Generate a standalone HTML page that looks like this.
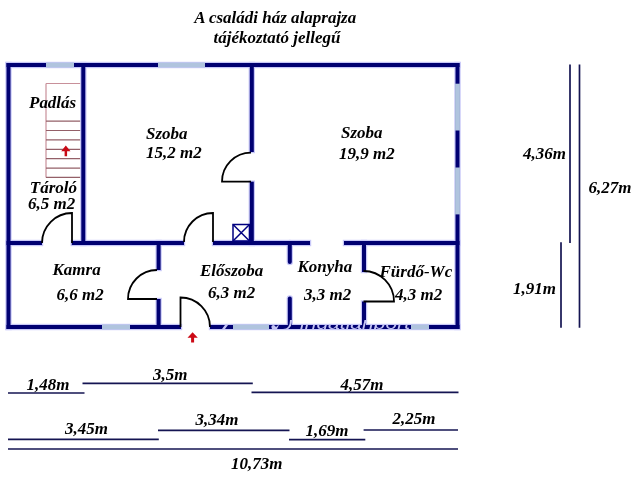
<!DOCTYPE html>
<html><head><meta charset="utf-8"><style>
html,body{margin:0;padding:0;background:#fff;width:640px;height:480px;overflow:hidden}
svg{position:absolute;left:0;top:0;display:block}
text{font-family:"Liberation Serif",serif;font-weight:bold;font-style:italic;font-size:17px;fill:#000}
svg{will-change:transform}
</style></head><body>
<svg width="640" height="480" viewBox="0 0 640 480">
<!-- title -->
<text transform="translate(194.3 22.6) scale(1 .93)">A családi ház alaprajza</text>
<text transform="translate(213.5 43.3) scale(1 .93)">tájékoztató jellegű</text>

<!-- stairs -->
<g stroke="#946068" stroke-width="1.2" fill="none">
<path d="M46 83.5H81.3M46 83.5V177.5" stroke="#c8909a"/>
<path d="M46 121.1H81.3M46 130.5H81.3M46 139.9H81.3M46 149.3H81.3M46 158.7H81.3M46 168.1H81.3M46 177.4H81.3"/>
</g>
<!-- stair arrow -->
<path d="M65.8 145.5L70.5 151.3H67.1V156.3H64.6V151.3H61.2Z" fill="#c80a16"/>
<!-- entrance arrow -->
<path d="M192.6 332.2L197.8 337.8H194.1V342.5H191.1V337.8H187.5Z" fill="#cc0a16"/>

<!-- walls -->
<defs><g id="ws">
<rect x="6.5" y="63" width="453" height="4"/>
<rect x="6.5" y="63" width="4" height="266"/>
<rect x="455.5" y="63" width="4" height="266"/>
<rect x="6.5" y="325" width="174.5" height="4"/>
<rect x="210" y="325" width="249.5" height="4"/>
<rect x="81.3" y="63" width="4" height="182"/>
<rect x="249.8" y="63" width="4" height="89"/>
<rect x="249.8" y="181.7" width="4" height="63.3"/>
<rect x="6.5" y="241" width="35.5" height="4"/>
<rect x="71.8" y="241" width="112.2" height="4"/>
<rect x="213" y="241" width="97" height="4"/>
<rect x="344" y="241" width="115.5" height="4"/>
<rect x="156.6" y="241" width="4" height="29"/>
<rect x="156.6" y="299" width="4" height="29"/>
<rect x="362" y="241" width="4" height="31"/>
<rect x="362" y="301.5" width="4" height="26"/>
<rect x="287.8" y="241" width="4" height="23" rx="2"/>
<rect x="287.8" y="296.5" width="4" height="32" rx="2"/>
</g></defs>
<use href="#ws" fill="none" stroke="#c8c8f8" stroke-width="2.4"/>
<use href="#ws" fill="#000072"/>
<!-- windows -->
<g fill="#b0c4de">
<rect x="46" y="62.6" width="28" height="4.8"/>
<rect x="158" y="62.6" width="47" height="4.8"/>
<rect x="455.1" y="83.7" width="4.8" height="46.8"/>
<rect x="455.1" y="167.5" width="4.8" height="46.9"/>
<rect x="102" y="324.6" width="28" height="4.8"/>
<rect x="233" y="324.6" width="36" height="4.8"/>
<rect x="411" y="324.6" width="18" height="4.8"/>
</g>

<!-- watermark -->
<defs><clipPath id="wc"><rect x="210" y="325" width="250" height="4"/><rect x="288" y="300" width="4" height="26"/><rect x="362" y="300" width="4" height="26"/></clipPath></defs>
<g clip-path="url(#wc)" fill="#c4c4f4">
<text style="font-family:'Liberation Sans',sans-serif;font-weight:normal;font-style:italic;font-size:17px;fill:#c4c4f4" x="300" y="329" textLength="110" lengthAdjust="spacingAndGlyphs">ingatlanport</text>
<path d="M222 329L225 325H228L225 329Z"/>
<path d="M272 329Q270 325 274 325L276 327Q278 325 279 325L277 329Z"/>
<path d="M283 329Q290 329 290 320L292 320Q292 329 285 330Z"/>
</g>

<!-- chimney -->
<g stroke="#000080" stroke-width="1.5" fill="none">
<rect x="233" y="224.5" width="16.5" height="16.5"/>
<path d="M233 224.5L249.5 241M249.5 224.5L233 241"/>
</g>

<!-- doors -->
<g stroke="#000" stroke-width="1.8" fill="none">
<path d="M72 243V213A30 30 0 0 0 42 243"/>
<path d="M251 181.7H222A29 29 0 0 1 251 152.7"/>
<path d="M213 242V213A29 29 0 0 0 184 242"/>
<path d="M157 299H128A29 29 0 0 1 157 270"/>
<path d="M363.5 301.5H394A30.5 30.5 0 0 0 363.5 271"/>
<path d="M180.5 327V297.5A29.5 29.5 0 0 1 210 327"/>
</g>

<!-- labels -->
<text transform="translate(29 108) scale(1 .93)">Padlás</text>
<text transform="translate(146 138.5) scale(1 .93)">Szoba</text>
<text transform="translate(146 158) scale(1 .93)">15,2 m2</text>
<text transform="translate(341 138) scale(1 .93)">Szoba</text>
<text transform="translate(339 159) scale(1 .93)">19,9 m2</text>
<text transform="translate(29.8 192.5) scale(1 .93)">Tároló</text>
<text transform="translate(28 209.1) scale(1 .93)">6,5 m2</text>
<text transform="translate(52.5 275) scale(1 .93)">Kamra</text>
<text transform="translate(56.5 299.5) scale(1 .93)">6,6 m2</text>
<text transform="translate(200 276) scale(1 .93)">Előszoba</text>
<text transform="translate(208 297.5) scale(1 .93)">6,3 m2</text>
<text transform="translate(297.5 271.5) scale(1 .93)">Konyha</text>
<text transform="translate(304 299.5) scale(1 .93)">3,3 m2</text>
<text transform="translate(379.5 276.5) scale(1 .93)">Fürdő-Wc</text>
<text transform="translate(395 299.5) scale(1 .93)">4,3 m2</text>

<!-- right dimensions -->
<g stroke="#141452" stroke-width="1.7">
<line x1="570" y1="64.5" x2="570" y2="243"/>
<line x1="579.5" y1="64.5" x2="579.5" y2="327.8"/>
<line x1="561" y1="242.2" x2="561" y2="327.8"/>
</g>
<text transform="translate(523 159) scale(1 .93)">4,36m</text>
<text transform="translate(588.5 193) scale(1 .93)">6,27m</text>
<text transform="translate(513 294) scale(1 .93)">1,91m</text>

<!-- bottom dimensions -->
<g stroke="#141452" stroke-width="1.7">
<line x1="8" y1="393" x2="84.5" y2="393"/>
<line x1="82.5" y1="383.4" x2="252.8" y2="383.4"/>
<line x1="251.5" y1="392.3" x2="458.5" y2="392.3"/>
<line x1="8" y1="439.4" x2="158.8" y2="439.4"/>
<line x1="158" y1="430.3" x2="289.5" y2="430.3"/>
<line x1="289" y1="439.6" x2="365.3" y2="439.6"/>
<line x1="363.6" y1="430" x2="458" y2="430"/>
<line x1="8" y1="449" x2="458" y2="449"/>
</g>
<text transform="translate(26.6 389.5) scale(1 .93)">1,48m</text>
<text transform="translate(153 380) scale(1 .93)">3,5m</text>
<text transform="translate(340.5 390) scale(1 .93)">4,57m</text>
<text transform="translate(65 433.5) scale(1 .93)">3,45m</text>
<text transform="translate(195.5 424.5) scale(1 .93)">3,34m</text>
<text transform="translate(305.5 436) scale(1 .93)">1,69m</text>
<text transform="translate(392.5 424.3) scale(1 .93)">2,25m</text>
<text transform="translate(231 469) scale(1 .93)">10,73m</text>
</svg>
</body></html>
